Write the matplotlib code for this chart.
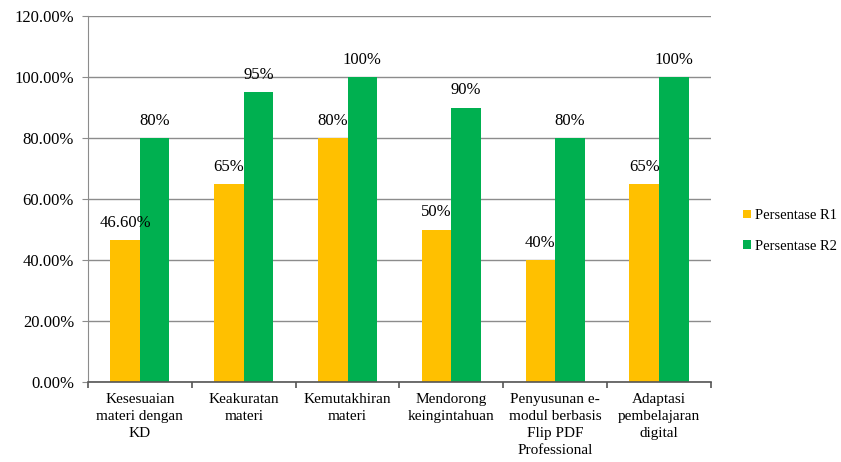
import numpy as np
import matplotlib
matplotlib.use("Agg")
import matplotlib.pyplot as plt
import matplotlib.ticker as ticker

# dati
categorie = ["Kesesuaian\nmateri dengan\nKD", "Keakuratan\nmateri", "Kemutakhiran\nmateri",
             "Mendorong\nkeingintahuan", "Penyusunan e-\nmodul berbasis\nFlip PDF\nProfessional",
             "Adaptasi\npembelajaran\ndigital"]
r1 = [46.6, 65, 80, 50, 40, 65]
r2 = [80, 95, 100, 90, 80, 100]
etichette_r1 = ["46.60%", "65%", "80%", "50%", "40%", "65%"]
etichette_r2 = ["80%", "95%", "100%", "90%", "80%", "100%"]

plt.rcParams['font.family'] = ['Liberation Serif', 'DejaVu Serif']

fig = plt.figure(figsize=(8.41, 4.62), dpi=100)
ax = fig.add_axes([0.1046, 0.173, 0.7408, 0.792])

x = np.arange(len(categorie))
w = 0.285
ax.bar(x - w / 2, r1, w, color='#FFC000', label='Persentase R1', zorder=2)
ax.bar(x + w / 2, r2, w, color='#00B050', label='Persentase R2', zorder=2)

for xi, v, t in zip(x, r1, etichette_r1):
    ax.text(xi - w / 2, v + 3, t, ha='center', va='bottom', fontsize=12)
for xi, v, t in zip(x, r2, etichette_r2):
    ax.text(xi + w / 2, v + 3, t, ha='center', va='bottom', fontsize=12)

ax.set_xlim(-0.5, len(categorie) - 0.5)
ax.set_ylim(0, 120)
ax.set_yticks(np.arange(0, 121, 20))
ax.yaxis.set_major_formatter(ticker.FuncFormatter(lambda v, p: f"{v:.2f}%"))
ax.grid(axis='y', color='#8c8c8c', linewidth=1, zorder=0)

# tick tra le categorie
ax.set_xticks(np.arange(-0.5, len(categorie), 1))
ax.set_xticklabels([])
ax.set_xticks(x, minor=True)
ax.set_xticklabels(categorie, minor=True, fontsize=11, linespacing=1.4)
ax.tick_params(axis='x', which='minor', length=0, pad=8)
ax.tick_params(axis='x', which='major', length=4, color='#555555', width=1.2)
ax.tick_params(axis='y', length=4, color='#8c8c8c', labelsize=12, pad=6)

for s in ['top', 'right']:
    ax.spines[s].set_visible(False)
ax.spines['left'].set_color('#8c8c8c')
ax.spines['bottom'].set_color('#555555')
ax.spines['bottom'].set_linewidth(1.2)

fig.legend(loc='center left', bbox_to_anchor=(0.884, 0.50), frameon=False,
           fontsize=10.5, handlelength=0.55, handleheight=0.55, handletextpad=0.25,
           labelspacing=1.2, borderaxespad=0, borderpad=0)

plt.savefig('out.png', dpi=100)
